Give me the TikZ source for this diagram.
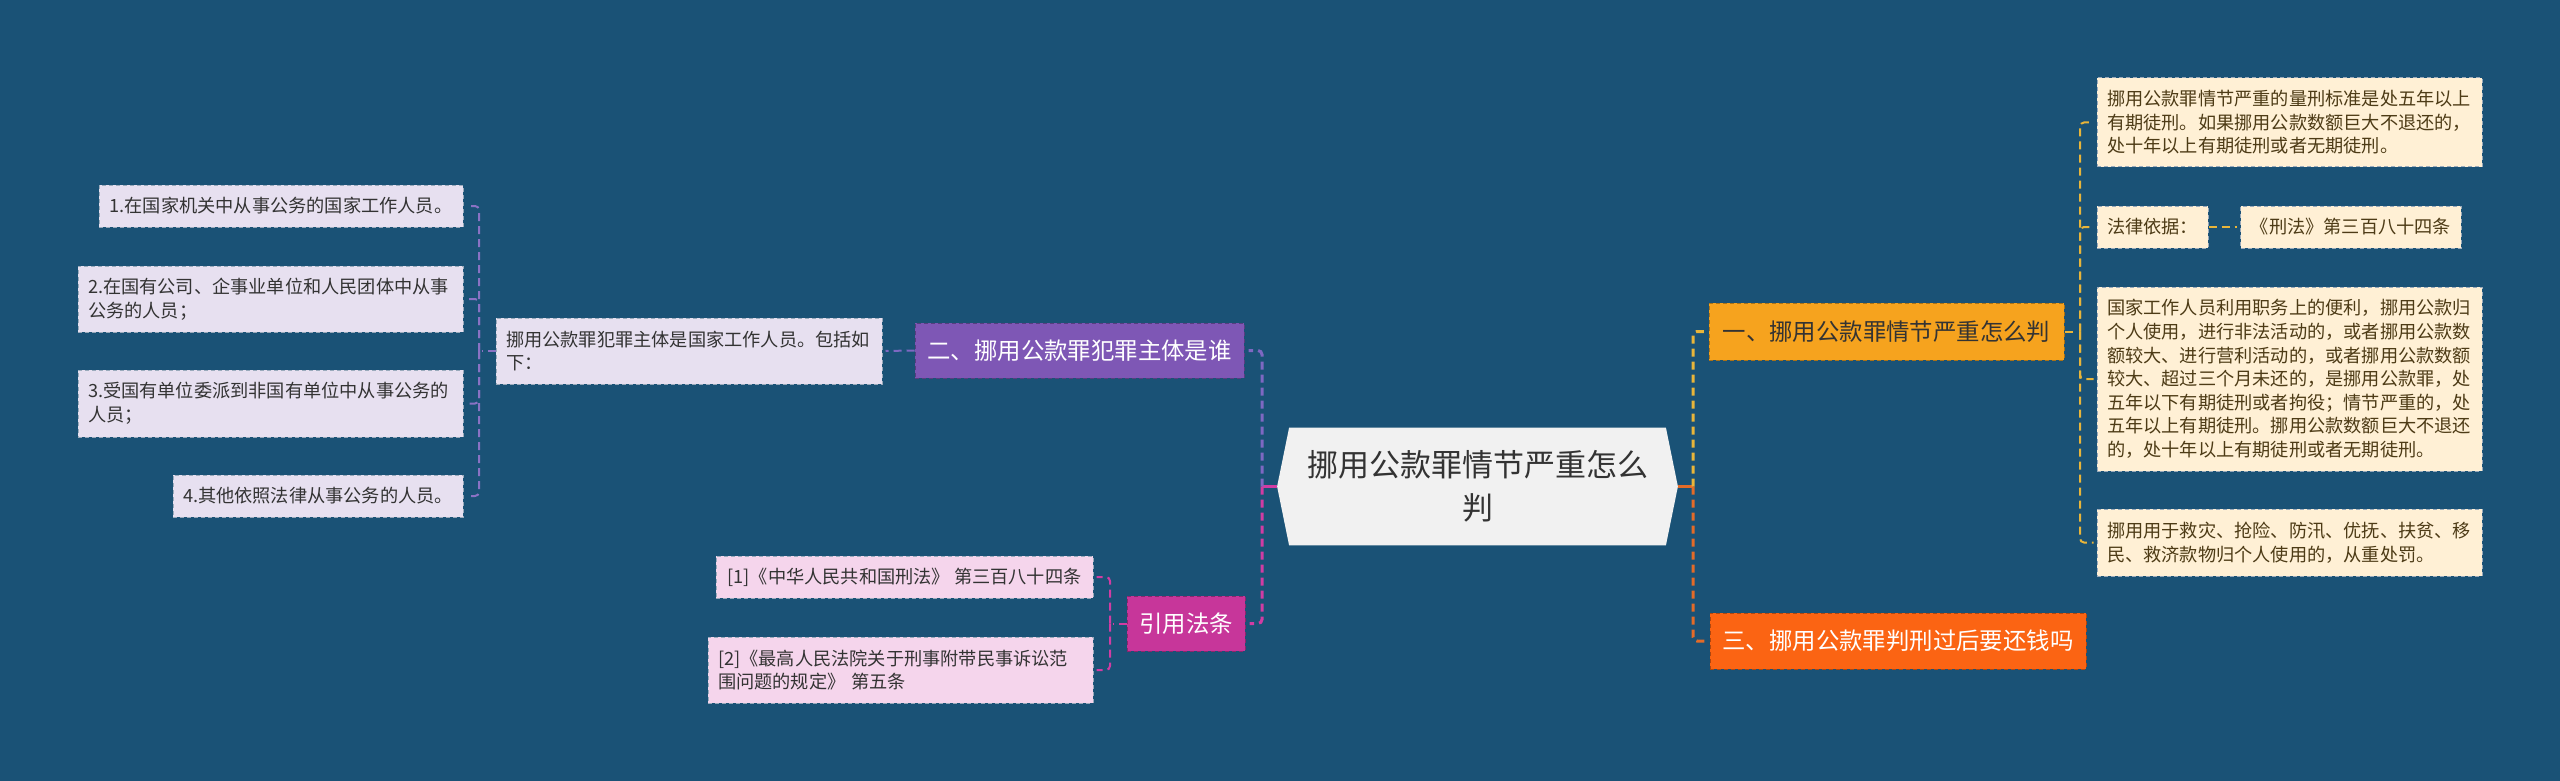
\documentclass[tikz,border=0pt]{standalone}
\usepackage{fontspec}
\setmainfont{Noto Sans CJK SC}
\usetikzlibrary{backgrounds}
\definecolor{bg}{HTML}{1A5276}
\definecolor{cfill}{HTML}{F1F1F1}
\definecolor{ctext}{HTML}{333333}
\definecolor{cream}{HTML}{FFF0D5}
\definecolor{creamtext}{HTML}{4D3B16}
\definecolor{lav}{HTML}{E7E0F0}
\definecolor{pinkf}{HTML}{F5D5EC}
\definecolor{purpf}{HTML}{7E57B5}
\definecolor{magf}{HTML}{C7369A}
\definecolor{orgf}{HTML}{F6A31E}
\definecolor{redf}{HTML}{FB6413}
\definecolor{yellowC}{HTML}{E8B53A}
\definecolor{orangeC}{HTML}{E36B28}
\definecolor{purpC}{HTML}{7E68C2}
\definecolor{magC}{HTML}{D13CA3}
\definecolor{lavC}{HTML}{8A72C4}
\definecolor{boxline}{HTML}{9AAABB}
\begin{document}
\begin{tikzpicture}[x=0.5pt,y=-0.5pt,
  box/.style={rectangle, inner xsep=5pt, inner ysep=0pt, draw=boxline, line width=0.5pt, dash pattern=on 2pt off 1.5pt, align=left},
  leafR/.style={box, fill=cream, text=creamtext, font=\fontsize{9.1}{11.8}\selectfont},
  leafL/.style={box, fill=lav, text=ctext, font=\fontsize{9.1}{11.8}\selectfont},
  leafP/.style={box, fill=pinkf, text=ctext, font=\fontsize{9.1}{11.8}\selectfont},
  branch/.style={rectangle, inner sep=0pt, align=center, line width=0.5pt, dash pattern=on 2pt off 1.5pt, font=\fontsize{11.7}{14}\selectfont},
  stubline/.style={line width=1.5pt},
  trunk/.style={line width=1.5pt, dash pattern=on 4pt off 2.5pt, rounded corners=2pt, shorten >=2pt},
  leafc/.style={line width=1pt, dash pattern=on 4pt off 2.5pt, rounded corners=2pt, shorten >=1.5pt},
]
\begin{pgfonlayer}{background}
\fill[bg] (0,0) rectangle (2560,781);
\end{pgfonlayer}
\useasboundingbox (0,0) rectangle (2560,781);

% central
\node[align=center, inner sep=0pt, minimum width=200pt, minimum height=58.5pt, text=ctext, font=\fontsize{15.5}{21.5}\selectfont] (c) at (1477.5,486.5) {挪用公款罪情节严重怎么\\判};

% branches
\node[branch, fill=orgf, draw=orgf!70!black, text=ctext, minimum width=177.5pt, minimum height=28.5pt] (b1) at (1886.5,331.5) {一、挪用公款罪情节严重怎么判};
\node[branch, fill=redf, draw=redf!70!black, text=white, minimum width=188pt, minimum height=28pt] (b3) at (1898,641) {三、挪用公款罪判刑过后要还钱吗};
\node[branch, fill=purpf, draw=purpf!70!black, text=white, minimum width=164.5pt, minimum height=27.5pt] (b2) at (1079.5,350.5) {二、挪用公款罪犯罪主体是谁};
\node[branch, fill=magf, draw=magf!70!black, text=white, minimum width=59pt, minimum height=27.5pt] (b4) at (1186,623.5) {引用法条};

% right leaves
\node[leafR, text width=182.5pt, minimum height=44.5pt] (r1) at (2289.5,122.5) {挪用公款罪情节严重的量刑标准是处五年以上\\有期徒刑。如果挪用公款数额巨大不退还的，\\处十年以上有期徒刑或者无期徒刑。};
\node[leafR, align=center, minimum width=55.5pt, minimum height=21pt] (r2) at (2152.5,227) {法律依据：};
\node[leafR, align=center, minimum width=110pt, minimum height=21pt] (r2b) at (2351,227) {《刑法》第三百八十四条};
\node[leafR, text width=182.5pt, minimum height=92pt] (r3) at (2289.5,379) {国家工作人员利用职务上的便利，挪用公款归\\个人使用，进行非法活动的，或者挪用公款数\\额较大、进行营利活动的，或者挪用公款数额\\较大、超过三个月未还的，是挪用公款罪，处\\五年以下有期徒刑或者拘役；情节严重的，处\\五年以上有期徒刑。挪用公款数额巨大不退还\\的，处十年以上有期徒刑或者无期徒刑。};
\node[leafR, text width=182.5pt, minimum height=33.5pt] (r4) at (2289.5,542.5) {挪用用于救灾、抢险、防汛、优抚、扶贫、移\\民、救济款物归个人使用的，从重处罚。};

% left leaves
\node[leafL, text width=183pt, minimum height=33pt] (l0) at (689,351) {挪用公款罪犯罪主体是国家工作人员。包括如\\下：};
\node[leafL, align=center, minimum width=182pt, minimum height=21pt] (s1) at (281,206) {1.在国家机关中从事公务的国家工作人员。};
\node[leafL, text width=182.5pt, minimum height=33pt] (s2) at (270.5,299) {2.在国有公司、企事业单位和人民团体中从事\\公务的人员；};
\node[leafL, text width=182.5pt, minimum height=33.5pt] (s3) at (270.5,403.5) {3.受国有单位委派到非国有单位中从事公务的\\人员；};
\node[leafL, align=center, minimum width=145pt, minimum height=21pt] (s4) at (318,496) {4.其他依照法律从事公务的人员。};

% references
\node[leafP, align=center, minimum width=188.5pt, minimum height=21pt] (f1) at (904.5,577) {[1]《中华人民共和国刑法》 第三百八十四条};
\node[leafP, text width=182.5pt, minimum height=33pt] (f2) at (900.5,670) {[2]《最高人民法院关于刑事附带民事诉讼范\\围问题的规定》 第五条};

% junctions
\coordinate (jr) at (1693,486.5);
\coordinate (jr1) at (2080,331.5);
\coordinate (jl) at (1262,486.5);
\coordinate (jl0) at (479,351);
\coordinate (jl4) at (1110,623.5);

\begin{pgfonlayer}{background}
\fill[cfill] (c.west) -- ([xshift=6pt]c.north west) -- ([xshift=-6pt]c.north east) -- (c.east) -- ([xshift=-6pt]c.south east) -- ([xshift=6pt]c.south west) -- cycle;
% right trunk
\draw[stubline, orangeC] (c.east) -- (jr);
\draw[trunk, yellowC] (jr) |- (b1.west);
\draw[trunk, orangeC] (jr) |- (b3.west);
% left trunk
\draw[stubline, magC] (c.west) -- (jl);
\draw[trunk, purpC] (jl) |- (b2.east);
\draw[trunk, magC] (jl) |- (b4.east);
% right leaves
\draw[leafc, yellowC] (b1.east) -- (jr1);
\foreach \n in {r1,r2,r3,r4} \draw[leafc, yellowC] (jr1) |- (\n.west);
\draw[leafc, yellowC] (r2.east) -- (r2b.west);
% left leaves
\draw[leafc, purpC] (b2.west) -- (l0.east);
\draw[leafc, lavC] (l0.west) -- (jl0);
\foreach \n in {s1,s2,s3,s4} \draw[leafc, lavC] (jl0) |- (\n.east);
% references
\draw[leafc, magC] (b4.west) -- (jl4);
\foreach \n in {f1,f2} \draw[leafc, magC] (jl4) |- (\n.east);
\end{pgfonlayer}
\end{tikzpicture}
\end{document}
